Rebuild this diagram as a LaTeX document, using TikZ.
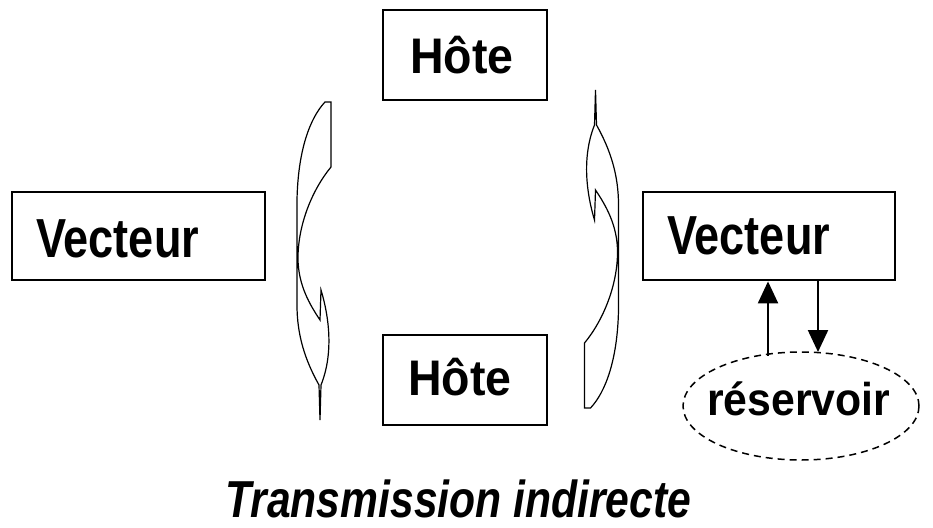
\documentclass[tikz,border=0pt]{standalone}
\usepackage{fontspec}
\usepackage{graphicx}
\setmainfont{Liberation Sans}
\usetikzlibrary{arrows.meta,shapes.geometric}
\newcommand{\curvedarrowpath}{%
  (10,-159) -- (16,-159) -- (16,-94)
  .. controls (-3,-71) and (-17,-36) .. (-17,-3)
  .. controls (-17,24) and (-5,44) .. (5,59)
  -- (6,29)
  .. controls (15,59) and (18,94) .. (6,124)
  -- (5,159) -- (4,124)
  .. controls (-10,99) and (-18,74) .. (-18,44)
  -- (-18,-61)
  .. controls (-17,-111) and (-5,-143) .. (10,-159) -- cycle}
\begin{document}
\begin{tikzpicture}[x=1pt,y=-1pt,
  boxnode/.style={draw, line width=2.8pt, rectangle, inner sep=0pt},
  lbl/.style={inner sep=0pt, anchor=base west, font=\bfseries},
  arr/.style={line width=2.2pt, -{Triangle[length=22pt,width=20pt]}},
  curv/.style={draw, line width=1.2pt, fill=white, line join=miter}]
\useasboundingbox (0,0) rectangle (933,527);
% boxes
\node[boxnode, minimum width=164pt, minimum height=90pt] (h1) at (465,55) {};
\node[boxnode, minimum width=253pt, minimum height=88pt] (v1) at (138.5,236) {};
\node[boxnode, minimum width=252pt, minimum height=88pt] (v2) at (769,236) {};
\node[boxnode, minimum width=164pt, minimum height=90pt] (h2) at (465,380) {};
% labels
\node[lbl] (h1t) at (410,73) {\fontsize{50}{56}\selectfont\scalebox{0.93}[1]{Hôte}};
\node[lbl] (h2t) at (408,395) {\fontsize{50}{56}\selectfont\scalebox{0.93}[1]{Hôte}};
\node[lbl] (v1t) at (36,257) {\fontsize{55}{60}\selectfont\scalebox{0.82}[1]{Vecteur}};
\node[lbl] (v2t) at (667,254) {\fontsize{55}{60}\selectfont\scalebox{0.82}[1]{Vecteur}};
% reservoir
\node[draw, dashed, dash pattern=on 7pt off 5pt, line width=1.5pt, ellipse,
      minimum width=236pt, minimum height=108pt, inner sep=0pt] (res) at (801,406) {};
\node[lbl] (rest) at (707,415) {\fontsize{46}{50}\selectfont\scalebox{0.93}[1]{réservoir}};
% arrows between vecteur and reservoir
\coordinate (upS) at (768,356);
\coordinate (dnE) at (818,352);
\draw[arr] (upS) -- (upS |- v2.south);
\draw[arr] (dnE |- v2.south) -- (dnE);
% curved arrows
\begin{scope}[shift={(315,261)}]
  \path[curv] \curvedarrowpath;
\end{scope}
\begin{scope}[shift={(600.5,249)}, rotate=180]
  \path[curv] \curvedarrowpath;
\end{scope}
% title
\node[lbl, font=\bfseries\itshape] (title) at (225,517) {\fontsize{52}{56}\selectfont\scalebox{0.82}[1]{Transmission indirecte}};
\end{tikzpicture}
\end{document}
